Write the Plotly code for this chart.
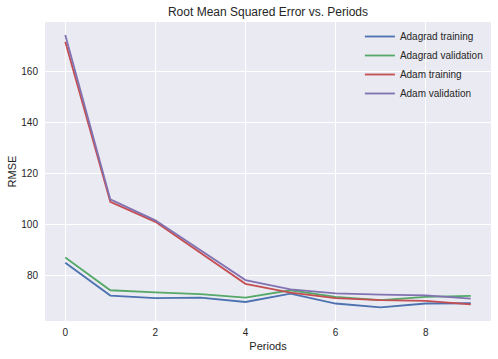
import plotly.graph_objects as go

periods = list(range(10))
adagrad_training = [85.2, 72.3, 71.3, 71.5, 69.8, 73.1, 69.2, 67.7, 69.2, 69.3]
adagrad_validation = [87.2, 74.4, 73.6, 72.9, 71.5, 74.4, 71.8, 70.5, 71.8, 72.2]
adam_training = [171.8, 109.0, 101.2, 89.2, 76.9, 73.5, 71.3, 70.5, 70.2, 68.9]
adam_validation = [174.4, 110.0, 101.8, 90.1, 78.4, 74.7, 73.2, 72.7, 72.4, 71.1]

series = [
    ("Adagrad training", adagrad_training, "#4C72B0"),
    ("Adagrad validation", adagrad_validation, "#55A868"),
    ("Adam training", adam_training, "#C44E52"),
    ("Adam validation", adam_validation, "#8172B2"),
]

fig = go.Figure()
for name, vals, col in series:
    fig.add_trace(go.Scatter(x=periods, y=vals, mode="lines", name=name,
                             line=dict(color=col, width=1.8)))

font = "Liberation Sans, Arial, sans-serif"
fig.update_layout(
    width=498, height=359,
    margin=dict(l=45, r=7, t=22, b=38),
    paper_bgcolor="white",
    plot_bgcolor="#EAEAF2",
    font=dict(family=font, size=10, color="#262626"),
    title=dict(text="Root Mean Squared Error vs. Periods", x=0.5, xanchor="center",
               xref="paper",
               y=1 - 12 / 359, yanchor="middle", font=dict(size=12, color="#262626")),
    showlegend=True,
    legend=dict(x=0.706, y=1.0, xanchor="left", yanchor="top",
                bgcolor="rgba(0,0,0,0)", font=dict(size=10, color="#262626"),
                tracegroupgap=0),
    xaxis=dict(range=[-0.45, 9.45], tickvals=[0, 2, 4, 6, 8], showgrid=True,
               gridcolor="white", gridwidth=1, zeroline=False, showline=False,
               ticks="", automargin=False, ticklabelstandoff=4,
               title=dict(text="Periods", font=dict(size=11), standoff=5)),
    yaxis=dict(range=[62.35, 179.5], tickvals=[80, 100, 120, 140, 160], showgrid=True,
               gridcolor="white", gridwidth=1, zeroline=False, showline=False,
               ticks="", automargin=False, ticklabelstandoff=6,
               title=dict(text="RMSE", font=dict(size=11), standoff=2)),
)
fig.write_html("out.html", config={"displayModeBar": False},
               post_script="document.body.style.margin='0';document.body.style.padding='0';")
